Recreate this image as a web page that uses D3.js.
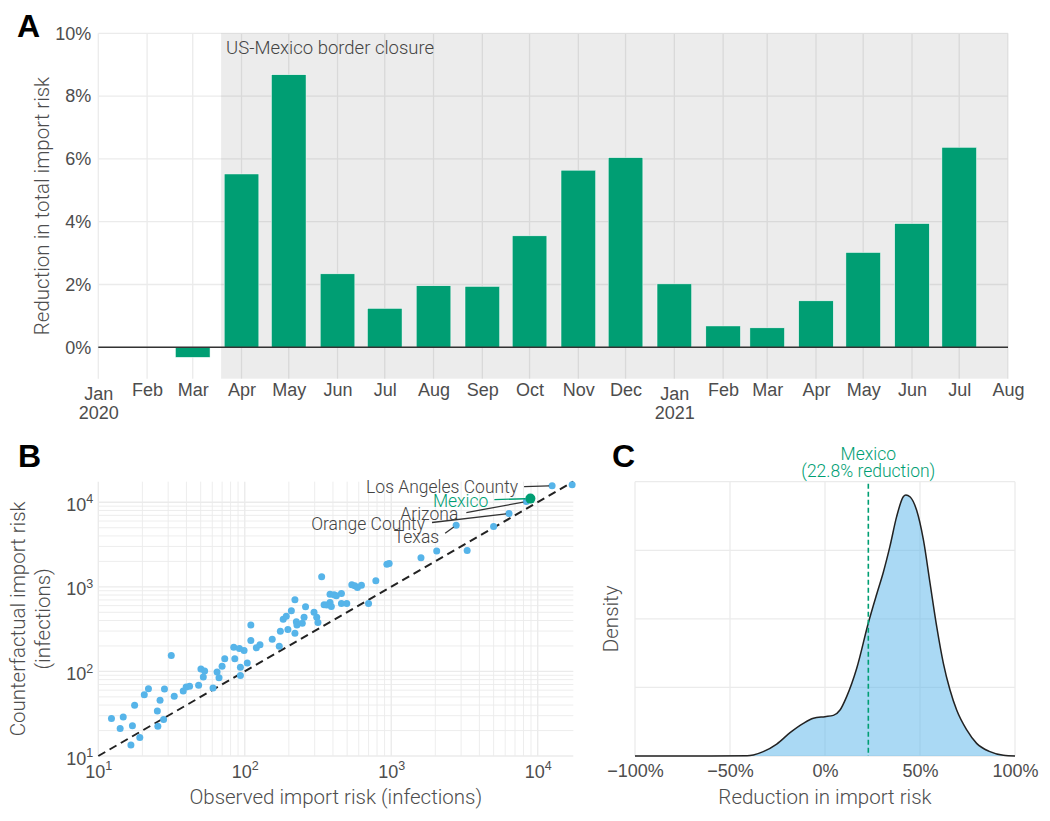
<!DOCTYPE html>
<html lang="en">
<head>
<meta charset="utf-8">
<title>US-Mexico border closure and import risk</title>
<script src="https://cdn.jsdelivr.net/npm/d3@7"></script>
<style>
  body { margin: 0; background: #fff; }
  svg { display: block; font-family: Roboto, "Noto Sans", sans-serif; font-weight: 300; }
  .tick text { fill: #4d4d4d; font-size: 18px; }
  .title { fill: #4d4d4d; font-size: 20.5px; }
  .note { fill: #444; font-size: 17.5px; }
  .grid line { stroke: #ebebeb; }
  .panel-label { font-family: "Liberation Sans", Arial, sans-serif; font-size: 32px; font-weight: bold; fill: #000; }
</style>
</head>
<body>
<script>

// Panel A: reduction in total import risk per month (%)
var months = ["2020-03", "2020-04", "2020-05", "2020-06", "2020-07", "2020-08", "2020-09",
              "2020-10", "2020-11", "2020-12", "2021-01", "2021-02", "2021-03", "2021-04",
              "2021-05", "2021-06", "2021-07"];
var reduction = [-0.32, 5.52, 8.68, 2.34, 1.24, 1.96, 1.94, 3.55, 5.64, 6.04, 2.02, 0.68,
                 0.62, 1.48, 3.02, 3.94, 6.37];
var closureStart = "2020-03-19";
var yTicksA = [0, 2, 4, 6, 8, 10];

// Panel B: observed vs counterfactual import risk (infections)
var observed = [12.3, 14.1, 14.8, 16.7, 17.1, 17.7, 19.2, 20.6, 22.0, 25.3, 25.5, 26.4, 27.9,
                28.3, 31.5, 33.0, 38.0, 39.8, 42.0, 48.4, 50.2, 52.1, 53.2, 60.7, 64.7, 66.7,
                70.0, 73.0, 84.1, 85.5, 91.9, 93.4, 93.4, 98.9, 104, 110, 110, 120, 127, 154,
                172, 175, 183, 192, 197, 208, 220, 220, 225, 227, 247, 254, 260, 297, 310, 316,
                335, 348, 363, 382, 382, 390, 407, 422, 457, 457, 497, 538, 564, 588, 626, 700,
                785, 934, 968, 1596, 2044, 2775, 3299, 4998, 6368, 8364, 12540, 17180];
var counterfactual = [27.7, 21.1, 29.0, 13.5, 22.8, 39.8, 16.6, 53.1, 62.5, 34.1, 22.5, 45.6,
                      27.0, 61.9, 154, 50.8, 58.7, 65.5, 66.7, 68.5, 107, 85.7, 101, 63.7, 98.2,
                      84.2, 115, 141, 193, 141, 187, 89.7, 112, 177, 126, 354, 232, 190, 206,
                      240, 199, 298, 413, 448, 312, 522, 703, 282, 387, 354, 370, 436, 582, 499,
                      436, 380, 1312, 614, 609, 820, 655, 587, 805, 783, 835, 637, 637, 1057,
                      1028, 982, 1047, 637, 1178, 1849, 1884, 2215, 2652, 5358, 2698, 5176, 7362,
                      10190, 15700, 16140];
var mexicoObserved = 8913;
var mexicoCounterfactual = 11040;
var labelNames = ["Los Angeles County", "Mexico", "Arizona", "Orange County", "Texas"];
var labelObserved = [12540, 8913, 8364, 6368, 2775];
var labelCounterfactual = [15700, 11040, 10190, 7362, 5358];
var logTicks = [10, 100, 1000, 10000];

// Panel C: density of reduction in import risk (%)
var densityX = [-100, -60, -41, -37.7, -32.5, -25.4, -18.4, -11.4, -6.1, 0, 4.4, 7.9, 11.4,
                16.7, 22.8, 27.2, 30.7, 34.2, 37.7, 41.2, 42.6, 44.7, 48.2, 51.8, 55.3, 58.8,
                62.3, 65.8, 69.3, 74.6, 79.8, 86.8, 93.9, 100];
var densityY = [0, 0, 0.002, 0.008, 0.032, 0.087, 0.17, 0.238, 0.275, 0.287, 0.296, 0.335,
                0.433, 0.64, 0.97, 1.18, 1.34, 1.53, 1.745, 1.89, 1.903, 1.89, 1.793, 1.575,
                1.259, 0.943, 0.676, 0.481, 0.335, 0.19, 0.092, 0.032, 0.005, 0];
var mexicoReduction = 22.8;
var xTicksC = [-100, -50, 0, 50, 100];
var yGridC = [0, 0.5, 1, 1.5, 2];

var w = 1050;
var h = 821;
var green = "#009E73";
var blue = "#56B4E9";

var svg = d3.select("body")
            .append("svg")
            .attr("width", w)
            .attr("height", h);

var parseMonth = d3.timeParse("%Y-%m");
var parseDay = d3.timeParse("%Y-%m-%d");

//---------------- Panel A ----------------
var xA = d3.scaleTime()
           .domain([new Date(2020, 0, 1), new Date(2021, 7, 1)])
           .range([98.3, 1008]);
var yA = d3.scaleLinear()
           .domain([-1, 10])
           .range([378.7, 33.3]);

var gA = svg.append("g");
var monthTicks = xA.ticks(d3.timeMonth.every(1));

var gridA = gA.append("g").attr("class", "grid").attr("stroke-width", 1.3);
gridA.selectAll("line.v")
     .data(monthTicks)
     .enter()
     .append("line")
     .attr("x1", function(d) { return xA(d); })
     .attr("x2", function(d) { return xA(d); })
     .attr("y1", yA.range()[0])
     .attr("y2", yA.range()[1]);
gridA.selectAll("line.h")
     .data(yTicksA)
     .enter()
     .append("line")
     .attr("x1", xA.range()[0])
     .attr("x2", xA.range()[1])
     .attr("y1", function(d) { return yA(d); })
     .attr("y2", function(d) { return yA(d); });

// border closure shading
var closure = parseDay(closureStart);
gA.append("rect")
  .attr("x", xA(closure))
  .attr("y", yA.range()[1])
  .attr("width", xA.range()[1] - xA(closure))
  .attr("height", yA.range()[0] - yA.range()[1])
  .attr("fill", "#000")
  .attr("fill-opacity", 0.075);

gA.append("text")
  .attr("class", "note")
  .attr("x", xA(closure) + 5)
  .attr("y", 54)
  .style("font-size", "18.5px")
  .text("US-Mexico border closure");

// bars are centred on the first of the month, ~22 days wide
gA.selectAll("rect.bar")
  .data(months)
  .enter()
  .append("rect")
  .attr("class", "bar")
  .attr("x", function(d) { return xA(d3.timeDay.offset(parseMonth(d), -11)); })
  .attr("width", function(d) {
      var m = parseMonth(d);
      return xA(d3.timeDay.offset(m, 11)) - xA(d3.timeDay.offset(m, -11));
  })
  .attr("y", function(d, i) { return yA(Math.max(0, reduction[i])); })
  .attr("height", function(d, i) { return Math.abs(yA(reduction[i]) - yA(0)); })
  .attr("fill", green)
  .attr("stroke", "#fff")
  .attr("stroke-width", 0.5);

gA.append("line")
  .attr("x1", xA.range()[0])
  .attr("x2", xA.range()[1])
  .attr("y1", yA(0))
  .attr("y2", yA(0))
  .attr("stroke", "#333")
  .attr("stroke-width", 1.6);

var axYA = gA.append("g")
  .attr("transform", "translate(" + xA.range()[0] + ",0)")
  .call(d3.axisLeft(yA).tickValues(yTicksA).tickSize(0).tickPadding(7)
          .tickFormat(function(d) { return d + "%"; }));
axYA.select(".domain").remove();

var fmtMonth = d3.timeFormat("%b");
var axXA = gA.append("g")
  .attr("transform", "translate(0," + yA.range()[0] + ")")
  .call(d3.axisBottom(xA).tickValues(monthTicks).tickSize(0).tickPadding(5).tickFormat(fmtMonth));
axXA.select(".domain").remove();
axXA.selectAll(".tick text").each(function(d) {
    if (d.getMonth() === 0) {
        var t = d3.select(this).text(null).attr("dy", null);
        t.append("tspan").attr("x", 0).attr("dy", "0.88em").text("Jan");
        t.append("tspan").attr("x", 0).attr("dy", "1.08em").text(d.getFullYear());
    }
});

gA.append("text")
  .attr("class", "title")
  .attr("transform", "translate(49," + (yA.range()[0] + yA.range()[1]) / 2 + ") rotate(-90)")
  .attr("text-anchor", "middle")
  .text("Reduction in total import risk");

svg.append("text").attr("class", "panel-label").attr("x", 17).attr("y", 37).text("A");

//---------------- Panel B ----------------
var xB = d3.scaleLog().domain([10, 17500]).range([98.3, 573.3]);
var yB = d3.scaleLog().domain([10, 17500]).range([756, 481.7]);

var gB = svg.append("g");

// log grid: 1..9 x 10^k
var logGrid = [];
[10, 100, 1000, 10000].forEach(function(p) {
    for (var m = 1; m <= 9; m++) {
        if (m * p <= 17500) logGrid.push({ v: m * p, major: m === 1 });
    }
});
var gridB = gB.append("g").attr("class", "grid");
gridB.selectAll("line.v")
     .data(logGrid)
     .enter()
     .append("line")
     .attr("x1", function(d) { return xB(d.v); })
     .attr("x2", function(d) { return xB(d.v); })
     .attr("y1", yB.range()[0])
     .attr("y2", yB.range()[1])
     .attr("stroke-width", function(d) { return d.major ? 1.4 : 0.9; });
gridB.selectAll("line.h")
     .data(logGrid)
     .enter()
     .append("line")
     .attr("x1", xB.range()[0])
     .attr("x2", xB.range()[1])
     .attr("y1", function(d) { return yB(d.v); })
     .attr("y2", function(d) { return yB(d.v); })
     .attr("stroke-width", function(d) { return d.major ? 1.4 : 0.9; });

// y = x reference
gB.append("line")
  .attr("x1", xB(10)).attr("y1", yB(10))
  .attr("x2", xB(17500)).attr("y2", yB(17500))
  .attr("stroke", "#222")
  .attr("stroke-width", 2)
  .attr("stroke-dasharray", "8,5");

gB.selectAll("circle.pt")
  .data(observed)
  .enter()
  .append("circle")
  .attr("class", "pt")
  .attr("cx", function(d) { return xB(d); })
  .attr("cy", function(d, i) { return yB(counterfactual[i]); })
  .attr("r", 3.5)
  .attr("fill", blue);

gB.append("circle")
  .attr("cx", xB(mexicoObserved))
  .attr("cy", yB(mexicoCounterfactual))
  .attr("r", 5)
  .attr("fill", green);

// repelled labels: text end offset and segment start offset from the point (px)
var labelOffsets = [[-34, 1], [-42, 2], [-68, 12], [-84, 10], [-17, 12]];
var segStart = [[-28, 1], [-36, 1], [-60, 11], [-77, 9], [-11, 8]];
labelNames.forEach(function(name, i) {
    var px = xB(labelObserved[i]);
    var py = yB(labelCounterfactual[i]);
    var col = name === "Mexico" ? green : "#333";
    var sx = px + segStart[i][0], sy = py + segStart[i][1];
    var dx = px - sx, dy = py - sy, len = Math.sqrt(dx * dx + dy * dy);
    var shrink = name === "Mexico" ? 5 : 3;
    gB.append("line")
      .attr("x1", sx).attr("y1", sy)
      .attr("x2", px - dx / len * shrink).attr("y2", py - dy / len * shrink)
      .attr("stroke", col)
      .attr("stroke-width", 1.3);
    gB.append("text")
      .attr("class", "note")
      .attr("x", px + labelOffsets[i][0])
      .attr("y", py + labelOffsets[i][1])
      .attr("dy", "0.35em")
      .attr("text-anchor", "end")
      .style("fill", name === "Mexico" ? green : "#444")
      .text(name);
});

function supLabel(sel) {
    sel.each(function(d) {
        var t = d3.select(this).text(null);
        t.append("tspan").text("10");
        t.append("tspan").attr("font-size", "12.5px").attr("dy", "-0.6em").text(Math.round(Math.log10(d)));
    });
}

var axYB = gB.append("g")
  .attr("transform", "translate(" + xB.range()[0] + ",0)")
  .call(d3.axisLeft(yB).tickValues(logTicks).tickSize(0).tickPadding(5).tickFormat(""));
axYB.select(".domain").remove();
axYB.selectAll(".tick text").attr("dy", "0.45em").call(supLabel);

var axXB = gB.append("g")
  .attr("transform", "translate(0," + yB.range()[0] + ")")
  .call(d3.axisBottom(xB).tickValues(logTicks).tickSize(0).tickPadding(9).tickFormat(""));
axXB.select(".domain").remove();
axXB.selectAll(".tick text").attr("dy", "0.71em").call(supLabel);
axXB.selectAll(".tick text").attr("dy", null)
    .each(function() { d3.select(this).select("tspan").attr("dy", "0.71em"); });

var tB = gB.append("text")
  .attr("class", "title")
  .attr("transform", "translate(0," + (yB.range()[0] + yB.range()[1]) / 2 + ") rotate(-90)")
  .attr("text-anchor", "middle");
tB.append("tspan").attr("x", 0).attr("y", 25).text("Counterfactual import risk");
tB.append("tspan").attr("x", 0).attr("y", 50).text("(infections)");

gB.append("text")
  .attr("class", "title")
  .attr("x", (xB.range()[0] + xB.range()[1]) / 2)
  .attr("y", 804)
  .attr("text-anchor", "middle")
  .text("Observed import risk (infections)");

svg.append("text").attr("class", "panel-label").attr("x", 18).attr("y", 467).text("B");

//---------------- Panel C ----------------
var xC = d3.scaleLinear().domain([-100, 100]).range([635, 1015]);
var yC = d3.scaleLinear().domain([0, 2]).range([756, 481.7]);

var gC = svg.append("g");
var gridC = gC.append("g").attr("class", "grid").attr("stroke-width", 1.3);
gridC.selectAll("line.v")
     .data(xTicksC)
     .enter()
     .append("line")
     .attr("x1", function(d) { return xC(d); })
     .attr("x2", function(d) { return xC(d); })
     .attr("y1", yC.range()[0])
     .attr("y2", yC.range()[1]);
gridC.selectAll("line.h")
     .data(yGridC)
     .enter()
     .append("line")
     .attr("x1", xC.range()[0])
     .attr("x2", xC.range()[1])
     .attr("y1", function(d) { return yC(d); })
     .attr("y2", function(d) { return yC(d); });

var area = d3.area()
             .x(function(d) { return xC(d); })
             .y0(yC(0))
             .y1(function(d, i) { return yC(densityY[i]); })
             .curve(d3.curveMonotoneX);
var line = d3.line()
             .x(function(d) { return xC(d); })
             .y(function(d, i) { return yC(densityY[i]); })
             .curve(d3.curveMonotoneX);

gC.append("path")
  .attr("d", area(densityX))
  .attr("fill", blue)
  .attr("fill-opacity", 0.5);
gC.append("path")
  .attr("d", line(densityX))
  .attr("fill", "none")
  .attr("stroke", "#222")
  .attr("stroke-width", 1.5);

gC.append("line")
  .attr("x1", xC(mexicoReduction)).attr("x2", xC(mexicoReduction))
  .attr("y1", yC.range()[1] + 2).attr("y2", yC(0))
  .attr("stroke", green)
  .attr("stroke-width", 1.6)
  .attr("stroke-dasharray", "5,3");

gC.append("text")
  .attr("class", "note")
  .attr("x", xC(mexicoReduction))
  .attr("y", 460)
  .attr("text-anchor", "middle")
  .style("fill", green)
  .text("Mexico");
gC.append("text")
  .attr("class", "note")
  .attr("x", xC(mexicoReduction))
  .attr("y", 477)
  .attr("text-anchor", "middle")
  .style("fill", green)
  .text("(" + mexicoReduction + "% reduction)");

var axXC = gC.append("g")
  .attr("transform", "translate(0," + yC.range()[0] + ")")
  .call(d3.axisBottom(xC).tickValues(xTicksC).tickSize(0).tickPadding(8)
          .tickFormat(function(d) { return (d < 0 ? "\u2212" + (-d) : d) + "%"; }));
axXC.select(".domain").remove();

gC.append("text")
  .attr("class", "title")
  .attr("x", (xC.range()[0] + xC.range()[1]) / 2)
  .attr("y", 804)
  .attr("text-anchor", "middle")
  .text("Reduction in import risk");

gC.append("text")
  .attr("class", "title")
  .attr("transform", "translate(618," + (yC.range()[0] + yC.range()[1]) / 2 + ") rotate(-90)")
  .attr("text-anchor", "middle")
  .text("Density");

svg.append("text").attr("class", "panel-label").attr("x", 612).attr("y", 467).text("C");

</script>
</body>
</html>
